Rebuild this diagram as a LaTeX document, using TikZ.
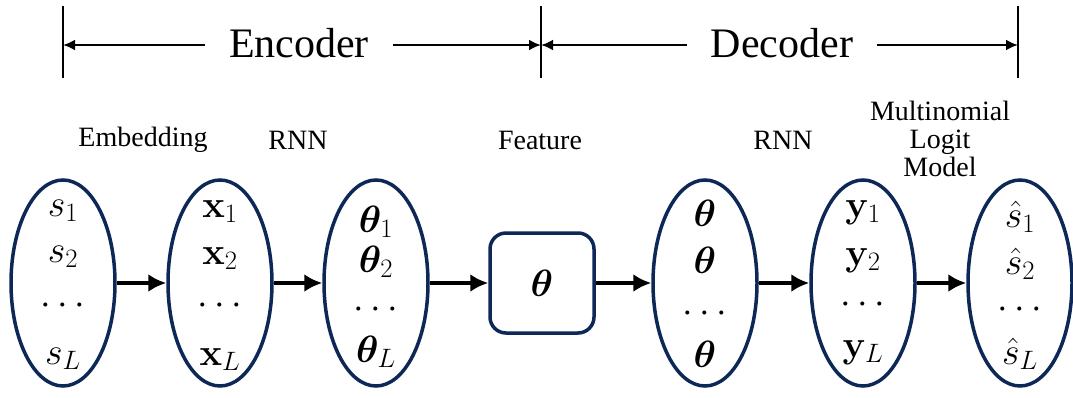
\documentclass[tikz,border=0pt]{standalone}
\usepackage{fix-cm}
\usepackage[no-math]{fontspec}
\setmainfont{Liberation Serif}
\usepackage{bm}
\usetikzlibrary{arrows.meta,shapes.geometric}
\definecolor{navy}{RGB}{13,40,86}

\tikzset{
	blob/.style={draw=navy, line width=3.5pt, ellipse, minimum width=104pt, minimum height=206pt, inner sep=0pt},
	featbox/.style={draw=navy, line width=3.5pt, rounded corners=16pt, minimum width=104pt, minimum height=100pt, inner sep=0pt},
	entry/.style={font=\fontsize{38}{40}\selectfont, inner sep=0pt, anchor=base},
	lbl/.style={font=\fontsize{28}{34}\selectfont, align=center},
	head/.style={font=\fontsize{42}{48}\selectfont, inner xsep=24pt},
	flow/.style={line width=3.5pt, -{Latex[length=18pt,width=18pt]}},
	dimline/.style={line width=2.4pt, -{Latex[length=12pt,width=11pt]}},
	septick/.style={line width=2.8pt}
}

\begin{document}
\begin{tikzpicture}[x=1pt, y=-1pt]
			%%%%% FRAME %%%%%
			\useasboundingbox (0, 0) rectangle (1073, 397);
			
			%%%%% ENCODER / DECODER SPANS %%%%%
			\coordinate (tl) at (63, 45);
			\coordinate (tm) at (541, 45);
			\coordinate (tr) at (1018, 45);
			\draw[septick] (63, 6) -- (63, 78);
			\draw[septick] (541, 6) -- (541, 78);
			\draw[septick] (1018, 6) -- (1018, 78);
			
			\node[head] (enc) at (299, 43) {Encoder};
			\node[head] (dec) at (782, 43) {Decoder};
			\draw[dimline] (enc.west |- tl) -- (tl);
			\draw[dimline] (enc.east |- tm) -- (tm);
			\draw[dimline] (dec.west |- tm) -- (tm);
			\draw[dimline] (dec.east |- tr) -- (tr);
			
			%%%%% LABELS %%%%%
			\node[lbl] (lemb) at (143, 140) {Embedding};
			\node[lbl] (lrnna) at (298, 140) {RNN};
			\node[lbl] (lfeat) at (540, 140) {Feature};
			\node[lbl] (lrnnb) at (783, 140) {RNN};
			\node[lbl] (lmnl) at (940, 139) {Multinomial\\[-6pt]Logit\\[-6pt]Model};
			
			%%%%% BLOBS %%%%%
			\node[blob] (seq) at (63, 283) {};
			\node[blob] (emb) at (220, 283) {};
			\node[blob] (hid) at (376, 283) {};
			\node[featbox] (feat) at (542, 283) {\fontsize{38}{40}\selectfont$\bm{\theta}$};
			\node[blob] (rep) at (705, 283) {};
			\node[blob] (out) at (863, 283) {};
			\node[blob] (pred) at (1020, 283) {};
			
			\node[entry] (s1) at (63, 216) {$s_1$};
			\node[entry] (s2) at (63, 262) {$s_2$};
			\node[entry] (sd) at (63, 314) {$\cdots$};
			\node[entry] (sl) at (63, 364) {$s_L$};
			
			\node[entry] (x1) at (220, 217) {$\mathbf{x}_1$};
			\node[entry] (x2) at (220, 264) {$\mathbf{x}_2$};
			\node[entry] (xd) at (220, 314) {$\cdots$};
			\node[entry] (xl) at (220, 365) {$\mathbf{x}_L$};
			
			\node[entry] (t1) at (376, 232) {$\bm{\theta}_1$};
			\node[entry] (t2) at (376, 272) {$\bm{\theta}_2$};
			\node[entry] (td) at (376, 318) {$\cdots$};
			\node[entry] (tl2) at (376, 362) {$\bm{\theta}_L$};
			
			\node[entry] (r1) at (705, 226) {$\bm{\theta}$};
			\node[entry] (r2) at (705, 273) {$\bm{\theta}$};
			\node[entry] (rd) at (705, 322) {$\cdots$};
			\node[entry] (rl) at (705, 367) {$\bm{\theta}$};
			
			\node[entry] (y1) at (863, 217) {$\mathbf{y}_1$};
			\node[entry] (y2) at (863, 265) {$\mathbf{y}_2$};
			\node[entry] (yd) at (863, 313) {$\cdots$};
			\node[entry] (yl) at (863, 357) {$\mathbf{y}_L$};
			
			\node[entry] (h1) at (1020, 227) {$\hat{s}_1$};
			\node[entry] (h2) at (1020, 274) {$\hat{s}_2$};
			\node[entry] (hd) at (1020, 318) {$\cdots$};
			\node[entry] (hl) at (1020, 364) {$\hat{s}_L$};
			
			%%%%% FLOW %%%%%
			\draw[flow] (seq.east) -- (emb.west);
			\draw[flow] (emb.east) -- (hid.west);
			\draw[flow] (hid.east) -- (feat.west);
			\draw[flow] (feat.east) -- (rep.west);
			\draw[flow] (rep.east) -- (out.west);
			\draw[flow] (out.east) -- (pred.west);
			
			%%%%% END %%%%%
\end{tikzpicture}
\end{document}
